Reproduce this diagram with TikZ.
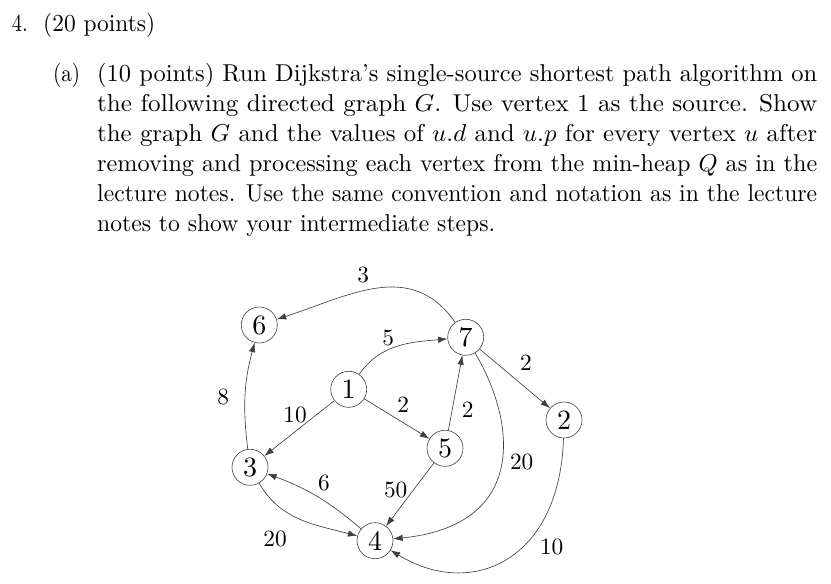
\documentclass[tikz,border=0pt]{standalone}
\usepackage{graphicx}
\usetikzlibrary{arrows.meta}
\newcommand{\tline}[2]{\scalebox{2.44}{\resizebox{#1}{\height}{#2}}}
\newcommand{\vnum}[1]{\scalebox{2.8}{#1}}
\newcommand{\enum}[1]{\scalebox{2.33}{#1}}
\begin{document}
\begin{tikzpicture}[x=1pt,y=-1pt,
  txt/.style={anchor=base west,inner sep=0pt,font=\fontsize{10}{12}\selectfont},
  vtx/.style={circle,draw=black!75,line width=0.6pt,minimum size=36pt,inner sep=0pt,font=\fontsize{10}{12}\selectfont},
  lbl/.style={inner sep=0pt,font=\fontsize{10}{12}\selectfont},
  edge/.style={draw=black!75,line width=0.65pt,-{Latex[length=9.5pt,width=6.5pt]}}]
\useasboundingbox (0,0) rectangle (831,584);
% text
\node[txt] (t0) at (11.7,31.7) {\tline{6.56pt}{4.}};
\node[txt] (t1) at (43,31.7) {\tline{45.9pt}{(20 points)}};
\node[txt] (ta) at (53,81.7) {\tline{11.07pt}{(a)}};
\node[txt] (l1) at (97,81.7) {\tline{295.1pt}{(10 points) Run Dijkstra's single-source shortest path algorithm on}};
\node[txt] (l2) at (97,111.7) {\tline{295.1pt}{the following directed graph $G$. Use vertex 1 as the source. Show}};
\node[txt] (l3) at (97,141.7) {\tline{295.1pt}{the graph $G$ and the values of $u.d$ and $u.p$ for every vertex $u$ after}};
\node[txt] (l4) at (97,171.7) {\tline{295.1pt}{removing and processing each vertex from the min-heap $Q$ as in the}};
\node[txt] (l5) at (97,201.7) {\tline{295.1pt}{lecture notes. Use the same convention and notation as in the lecture}};
\node[txt] (l6) at (97,231.7) {\tline{163.1pt}{notes to show your intermediate steps.}};
% vertices
\node[vtx] (v6) at (259.3,325) {\vnum{6}};
\node[vtx] (v7) at (465.7,337.3) {\vnum{7}};
\node[vtx] (v1) at (348.7,389.3) {\vnum{1}};
\node[vtx] (v2) at (564,420) {\vnum{2}};
\node[vtx] (v5) at (445,448.3) {\vnum{5}};
\node[vtx] (v3) at (250,467.3) {\vnum{3}};
\node[vtx] (v4) at (375,540.7) {\vnum{4}};
% edges
\draw[edge] (v7) to[out=125,in=18,looseness=1.1] (v6);
\draw[edge] (v1) to[out=55,in=185] (v7);
\draw[edge] (v7) -- (v2);
\draw[edge] (v1) -- (v3);
\draw[edge] (v1) -- (v5);
\draw[edge] (v5) -- (v7);
\draw[edge] (v3) to[out=97,in=255] (v6);
\draw[edge] (v4) to[bend right=10] (v3);
\draw[edge] (v5) -- (v4);
\draw[edge] (v7) .. controls (515,420) and (530,525) .. (v4);
\draw[edge] (v3) to[out=-60,in=165] (v4);
\draw[edge] (v2) .. controls (560,560) and (472,600) .. (v4);
% labels
\node[lbl] (e76) at (363.3,275) {\enum{3}};
\node[lbl] (e17) at (388.3,338.3) {\enum{5}};
\node[lbl] (e72) at (526,362.7) {\enum{2}};
\node[lbl] (e13) at (295,415) {\enum{10}};
\node[lbl] (e15) at (403.3,405) {\enum{2}};
\node[lbl] (e57) at (467.7,410) {\enum{2}};
\node[lbl] (e36) at (223.3,397) {\enum{8}};
\node[lbl] (e43) at (324,483) {\enum{6}};
\node[lbl] (e54) at (395.7,490) {\enum{50}};
\node[lbl] (e74) at (521.7,461.7) {\enum{20}};
\node[lbl] (e34) at (275,539.3) {\enum{20}};
\node[lbl] (e24) at (551.7,546.7) {\enum{10}};
\end{tikzpicture}
\end{document}
